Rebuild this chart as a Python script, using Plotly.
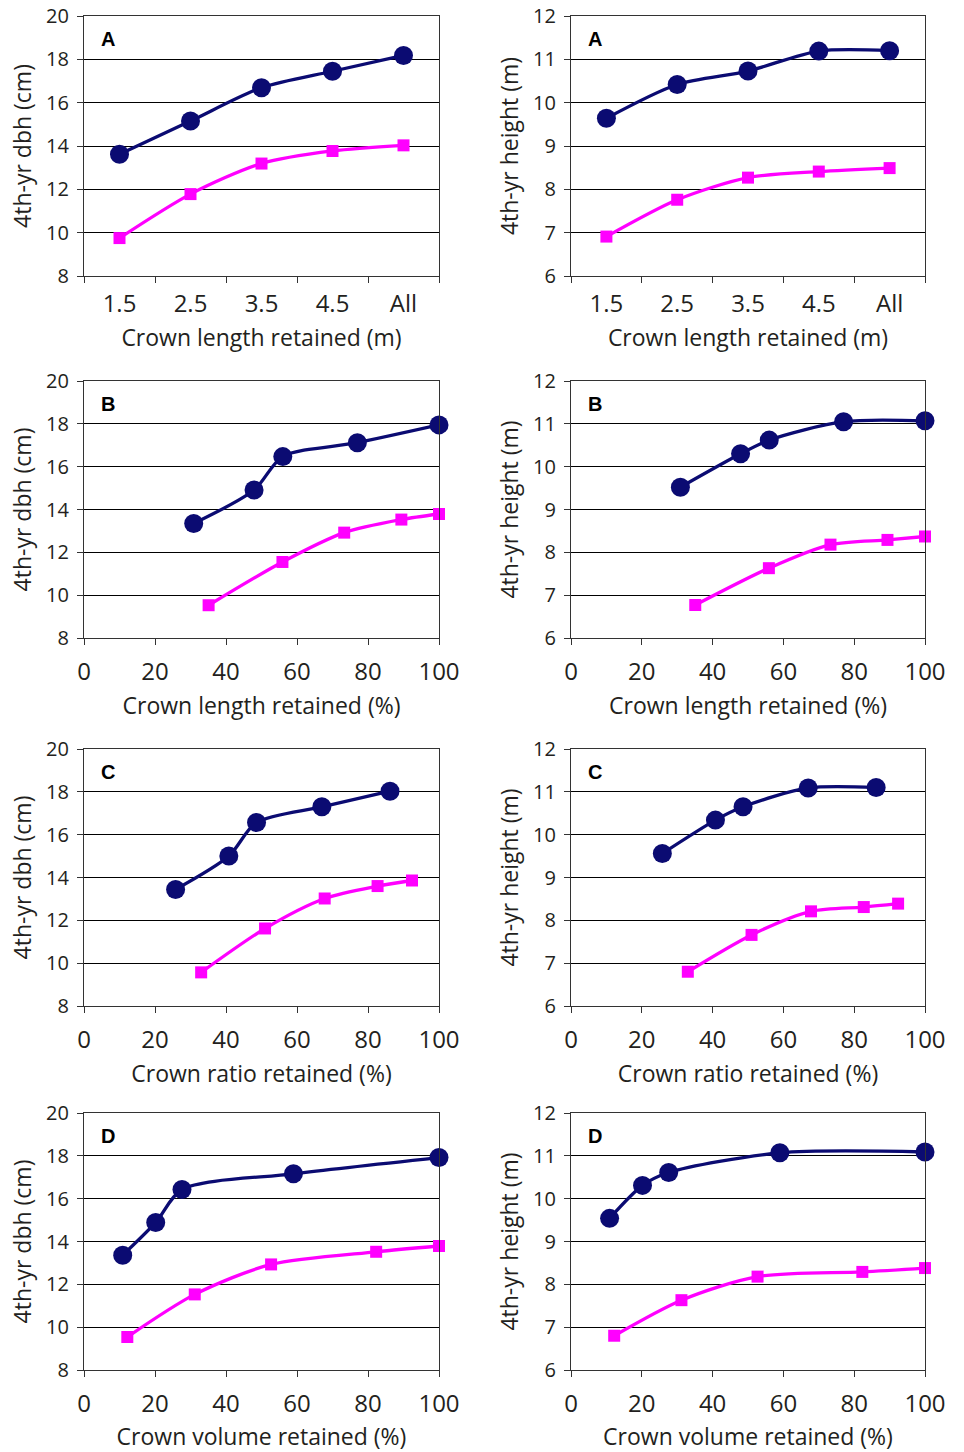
import plotly.graph_objects as go

# ---------------- data ----------------
A_cats = ["1.5", "2.5", "3.5", "4.5", "All"]
A_dbh_navy = [13.62, 15.15, 16.69, 17.45, 18.18]
A_dbh_mag = [9.75, 11.78, 13.19, 13.77, 14.03]
A_ht_navy = [9.64, 10.42, 10.73, 11.19, 11.20]
A_ht_mag = [6.91, 7.76, 8.27, 8.41, 8.49]

B_x_navy = [30.9, 47.9, 56.0, 77.0, 100]
B_x_mag = [35.1, 55.9, 73.3, 89.4, 100]
B_dbh_navy = [13.35, 14.91, 16.47, 17.12, 17.95]
B_dbh_mag = [9.53, 11.55, 12.92, 13.53, 13.79]
B_ht_navy = [9.52, 10.30, 10.62, 11.05, 11.07]
B_ht_mag = [6.77, 7.63, 8.18, 8.29, 8.37]

C_x_navy = [25.8, 40.8, 48.6, 67.0, 86.2]
C_x_mag = [33.0, 51.0, 67.8, 82.7, 92.4]
C_dbh_navy = [13.44, 15.00, 16.57, 17.30, 18.03]
C_dbh_mag = [9.57, 11.62, 13.02, 13.60, 13.86]
C_ht_navy = [9.56, 10.34, 10.65, 11.09, 11.10]
C_ht_mag = [6.80, 7.66, 8.21, 8.31, 8.39]

D_x_navy = [10.9, 20.2, 27.6, 59.0, 100]
D_x_mag = [12.2, 31.2, 52.7, 82.3, 100]
D_dbh_navy = [13.36, 14.89, 16.43, 17.16, 17.92]
D_dbh_mag = [9.54, 11.53, 12.93, 13.52, 13.79]
D_ht_navy = [9.54, 10.31, 10.61, 11.07, 11.09]
D_ht_mag = [6.80, 7.63, 8.18, 8.29, 8.38]

panel_letters = ["A", "B", "C", "D"]
x_titles = ["Crown length retained (m)", "Crown length retained (%)",
            "Crown ratio retained (%)", "Crown volume retained (%)"]
y_titles = ["4th-yr dbh (cm)", "4th-yr height (m)"]

NAVY = "#0b0b72"
MAG = "#ff00ff"
FONT = "Open Sans"
TXT = "#231f20"

W, H = 964, 1452
col_px = [(84, 439), (571, 925)]
row_px = [(16, 276), (381, 638), (749, 1006), (1113, 1370)]

panels = [
    # (x_navy, x_mag, left navy, left mag, right navy, right mag)
    (A_cats, A_cats, A_dbh_navy, A_dbh_mag, A_ht_navy, A_ht_mag),
    (B_x_navy, B_x_mag, B_dbh_navy, B_dbh_mag, B_ht_navy, B_ht_mag),
    (C_x_navy, C_x_mag, C_dbh_navy, C_dbh_mag, C_ht_navy, C_ht_mag),
    (D_x_navy, D_x_mag, D_dbh_navy, D_dbh_mag, D_ht_navy, D_ht_mag),
]

fig = go.Figure()
layout = {}
annotations = []
k = 0
for r, (xn, xm, ln, lm, rn, rm) in enumerate(panels):
    for c in range(2):
        k += 1
        xa = "x" if k == 1 else f"x{k}"
        ya = "y" if k == 1 else f"y{k}"
        yn, ymg = (ln, lm) if c == 0 else (rn, rm)
        fig.add_trace(go.Scatter(
            x=xm, y=ymg, xaxis=xa, yaxis=ya, mode="lines+markers",
            line=dict(color=MAG, width=3.3, shape="spline", smoothing=0.8),
            marker=dict(symbol="square", size=12, color=MAG),
            cliponaxis=False, showlegend=False))
        fig.add_trace(go.Scatter(
            x=xn, y=yn, xaxis=xa, yaxis=ya, mode="lines+markers",
            line=dict(color=NAVY, width=3.3, shape="spline", smoothing=0.8),
            marker=dict(symbol="circle", size=19, color=NAVY),
            cliponaxis=False, showlegend=False))
        x0, x1 = col_px[c]
        y0, y1 = row_px[r]
        xdom = [x0 / W, x1 / W]
        ydom = [1 - y1 / H, 1 - y0 / H]
        xkey = "xaxis" if k == 1 else f"xaxis{k}"
        ykey = "yaxis" if k == 1 else f"yaxis{k}"
        xax = dict(domain=xdom, anchor=ya, showline=True, mirror=True,
                   linecolor="#333333", linewidth=1.3, ticks="outside",
                   ticklen=6, tickcolor="#333333", showgrid=False,
                   zeroline=False, automargin=False, ticklabelstandoff=6,
                   ticklabeloverflow="allow",
                   tickfont=dict(family=FONT, size=24, color=TXT),
                   title=dict(text=x_titles[r], standoff=11,
                              font=dict(family=FONT, size=23, color=TXT)))
        if r == 0:
            xax.update(type="category", range=[-0.5, 4.5],
                       tickson="boundaries")
        else:
            xax.update(range=[0, 100], tickvals=[0, 20, 40, 60, 80, 100])
        if c == 0:
            yr, yt = [8, 20], [8, 10, 12, 14, 16, 18, 20]
        else:
            yr, yt = [6, 12], [6, 7, 8, 9, 10, 11, 12]
        yax = dict(domain=ydom, anchor=xa, range=yr, tickvals=yt,
                   showline=True, mirror=True, linecolor="#333333",
                   linewidth=1.3, ticks="outside", ticklen=6,
                   tickcolor="#333333", showgrid=True, gridcolor="#000000",
                   gridwidth=1, zeroline=False, automargin=False,
                   ticklabelstandoff=4, ticklabeloverflow="allow",
                   tickfont=dict(family=FONT, size=20, color=TXT),
                   title=dict(text=y_titles[c], standoff=7,
                              font=dict(family=FONT, size=23, color=TXT)))
        layout[xkey] = xax
        layout[ykey] = yax
        annotations.append(dict(
            text=f"<b>{panel_letters[r]}</b>", xref=f"{xa} domain",
            yref=f"{ya} domain", x=0.042, y=0.91, xanchor="left",
            yanchor="middle", showarrow=False,
            font=dict(family="Liberation Sans", size=20, color="#000000")))

fig.update_layout(**layout)
fig.update_layout(width=W, height=H, margin=dict(l=0, r=0, t=0, b=0),
                  plot_bgcolor="white", paper_bgcolor="white",
                  annotations=annotations, showlegend=False)
fig.write_html("out.html", config={"displayModeBar": False},
               post_script="document.body.style.margin='0px';"
                           "document.body.style.overflow='hidden';")
